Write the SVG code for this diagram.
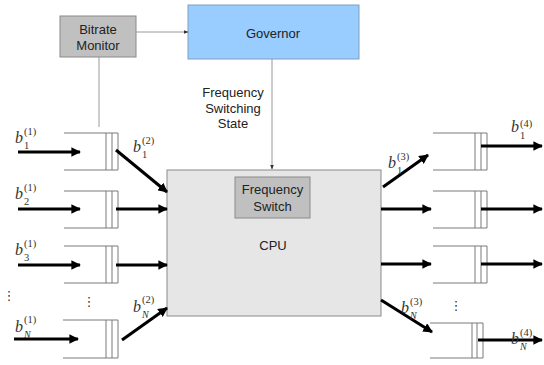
<svg xmlns="http://www.w3.org/2000/svg" width="544" height="365" viewBox="0 0 544 365">
<style>
.box{stroke:#8a8a8a;stroke-width:1}
.sans{font-family:"Liberation Sans",Arial,sans-serif;font-size:13px;fill:#222;text-anchor:middle}
.b{font-family:"Liberation Serif","Times New Roman",serif;font-style:italic;font-size:16px;fill:#333}
.s{font-family:"Liberation Serif","Times New Roman",serif;font-size:10.5px;fill:#333}
.si{font-family:"Liberation Serif","Times New Roman",serif;font-size:10px;font-style:italic;fill:#333}
.q{stroke:#7a7a7a;stroke-width:1;fill:none}
.thin{stroke:#9a9a9a;stroke-width:1;fill:none}
.thick{stroke:#000;stroke-width:3;fill:none}
.dots{font-family:"DejaVu Sans",sans-serif;font-size:13px;fill:#333;text-anchor:middle}
</style>
<defs>
<marker id="ah" viewBox="0 0 10 10" refX="9" refY="5" markerWidth="3.2" markerHeight="3.2" orient="auto" markerUnits="strokeWidth"><path d="M0,0 L10,5 L0,10 z" fill="#000"/></marker>
<marker id="ahs" viewBox="0 0 10 10" refX="9" refY="5" markerWidth="5" markerHeight="5" orient="auto" markerUnits="strokeWidth"><path d="M0,1 L10,5 L0,9 z" fill="#333"/></marker>
</defs>
<rect width="544" height="365" fill="#fff"/>

<g id="bitrate-monitor">
<rect class="box" x="60" y="16" width="76" height="41" fill="#c0c0c0"/>
<text class="sans" x="98" y="34">Bitrate</text>
<text class="sans" x="98" y="50">Monitor</text>
</g>

<g id="governor">
<rect x="188" y="5" width="171" height="54" fill="#99ccff" stroke="#7f9fbf" stroke-width="1"/>
<text class="sans" x="273" y="38">Governor</text>
</g>

<g id="cpu">
<rect class="box" x="167" y="170" width="214" height="146" fill="#e6e6e6"/>
<text class="sans" x="273" y="250">CPU</text>
</g>

<g id="frequency-switch">
<rect class="box" x="235" y="177" width="75" height="41" fill="#c0c0c0"/>
<text class="sans" x="272.5" y="194">Frequency</text>
<text class="sans" x="272.5" y="211">Switch</text>
</g>

<g id="fss-label">
<text class="sans" x="233" y="97">Frequency</text>
<text class="sans" x="233" y="113">Switching</text>
<text class="sans" x="233" y="128">State</text>
</g>

<g id="in-queue-1"><path class="q" d="M64,133 H118 M64,170 H118 M106,133 V170 M112,133 V170 M118,133 V170"/></g>
<g id="in-queue-2"><path class="q" d="M64,191 H118 M64,228 H118 M106,191 V228 M112,191 V228 M118,191 V228"/></g>
<g id="in-queue-3"><path class="q" d="M64,246 H118 M64,283 H118 M106,246 V283 M112,246 V283 M118,246 V283"/></g>
<g id="in-queue-N"><path class="q" d="M63,320 H118 M63,358 H118 M106,320 V358 M112,320 V358 M118,320 V358"/></g>

<g id="out-queue-1"><path class="q" d="M433,133 H487 M433,170 H487 M475,133 V170 M481,133 V170 M487,133 V170"/></g>
<g id="out-queue-2"><path class="q" d="M433,191 H487 M433,228 H487 M475,191 V228 M481,191 V228 M487,191 V228"/></g>
<g id="out-queue-3"><path class="q" d="M433,246 H487 M433,283 H487 M475,246 V283 M481,246 V283 M487,246 V283"/></g>
<g id="out-queue-N"><path class="q" d="M430,323 H483 M430,358 H483 M472,323 V358 M477,323 V358 M483,323 V358"/></g>

<g id="connectors">
<line class="thin" x1="136" y1="32" x2="188" y2="32" marker-end="url(#ahs)"/>
<line class="thin" x1="99" y1="57" x2="99" y2="127"/>
<line class="thin" x1="272" y1="59" x2="272" y2="169" marker-end="url(#ahs)"/>

<line class="thick" x1="18" y1="152" x2="80" y2="152" marker-end="url(#ah)"/>
<line class="thick" x1="18" y1="209" x2="80" y2="209" marker-end="url(#ah)"/>
<line class="thick" x1="18" y1="265" x2="80" y2="265" marker-end="url(#ah)"/>
<line class="thick" x1="14" y1="339" x2="78" y2="339" marker-end="url(#ah)"/>

<line class="thick" x1="116" y1="150" x2="167" y2="192" marker-end="url(#ah)"/>
<line class="thick" x1="116" y1="209" x2="167" y2="209" marker-end="url(#ah)"/>
<line class="thick" x1="116" y1="265" x2="167" y2="265" marker-end="url(#ah)"/>
<line class="thick" x1="122" y1="340" x2="167" y2="308" marker-end="url(#ah)"/>

<line class="thick" x1="383" y1="187" x2="428" y2="155" marker-end="url(#ah)"/>
<line class="thick" x1="381" y1="209" x2="431" y2="209" marker-end="url(#ah)"/>
<line class="thick" x1="381" y1="264" x2="431" y2="264" marker-end="url(#ah)"/>
<line class="thick" x1="381" y1="300" x2="432" y2="332" marker-end="url(#ah)"/>

<line class="thick" x1="481" y1="146" x2="542" y2="146" marker-end="url(#ah)"/>
<line class="thick" x1="481" y1="209" x2="542" y2="209" marker-end="url(#ah)"/>
<line class="thick" x1="481" y1="264" x2="542" y2="264" marker-end="url(#ah)"/>
<line class="thick" x1="478" y1="340" x2="542" y2="340" marker-end="url(#ah)"/>
</g>

<g id="labels">
<text class="b" x="15" y="143">b</text><text class="s" x="24" y="135">(1)</text><text class="s" x="24" y="149">1</text>
<text class="b" x="15" y="199">b</text><text class="s" x="24" y="191">(1)</text><text class="s" x="24" y="205">2</text>
<text class="b" x="15" y="255">b</text><text class="s" x="24" y="247">(1)</text><text class="s" x="24" y="261">3</text>
<text class="b" x="15" y="332">b</text><text class="s" x="24" y="323">(1)</text><text class="si" x="24" y="338">N</text>

<text class="b" x="133" y="152">b</text><text class="s" x="142" y="144">(2)</text><text class="s" x="142" y="158">1</text>
<text class="b" x="133" y="312">b</text><text class="s" x="142" y="303">(2)</text><text class="si" x="142" y="318">N</text>

<text class="b" x="388" y="168">b</text><text class="s" x="397" y="160">(3)</text><text class="s" x="397" y="174">1</text>
<text class="b" x="401" y="313">b</text><text class="s" x="410" y="305">(3)</text><text class="si" x="410" y="319">N</text>

<text class="b" x="511" y="132">b</text><text class="s" x="520" y="127">(4)</text><text class="s" x="520" y="139">1</text>
<text class="b" x="511" y="344">b</text><text class="s" x="520" y="336">(4)</text><text class="si" x="520" y="350">N</text>

<text class="dots" x="9" y="300">⋮</text>
<text class="dots" x="89" y="306">⋮</text>
<text class="dots" x="456" y="310">⋮</text>
</g>
</svg>
